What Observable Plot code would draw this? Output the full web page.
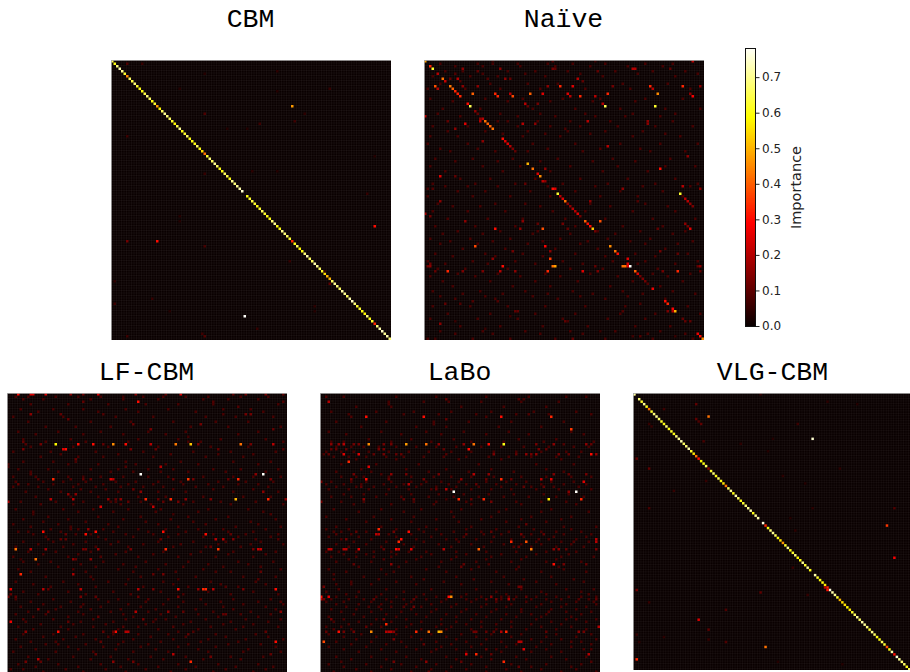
<!DOCTYPE html>
<html><head><meta charset="utf-8">
<script src="https://cdn.jsdelivr.net/npm/d3@7"></script>
<script src="https://cdn.jsdelivr.net/npm/@observablehq/plot@0.6"></script>
<style>
html,body{margin:0;padding:0;background:#fff;width:910px;height:672px;overflow:hidden}
#page{position:relative;width:910px;height:672px;overflow:hidden}
.panel{position:absolute}
.panel svg{display:block;overflow:hidden}
.heat svg{filter:blur(.3px)}
.ttl{position:absolute;width:280px;text-align:center;font-family:"Liberation Mono",monospace;font-size:26.5px;line-height:30px;color:#000}
</style></head><body><div id="page"></div>
<script>
const panelNames = ["CBM","Naïve","LF-CBM","LaBo","VLG-CBM"];
const legendLabel = "Importance";
const legendTicks = [0,0.1,0.2,0.3,0.4,0.5,0.6,0.7];

const cbmDiag = [.65,.6,.68,.72,.7,.62,.45,.66,.64,.68,.62,.6,.6,.64,.68,.66,.6,.62,.47,.58,.66,.7,.68,.66,.62,.58,.64,.7,.6,.62,.66,.6,.6,.6,.66,.6,.55,.42,.62,.68,.66,.7,.66,.6,.6,.66,.64,.6,.7,.68,.7,.72,.75,0,.6,.62,.64,.62,.6,.62,.66,.62,.6,.6,.68,.7,.6,.6,.7,.68,.66,.62,.33,.6,.66,.58,.6,.68,.72,.66,.66,.72,.7,.66,.62,.55,.5,.5,.66,.7,.68,.66,.72,.7,.66,.72,.74,.68,.62,.62,.6,.58,.68,.6,.62,.33,.68,.72,.74,.7,.72,.68];
const cbmCells = [[102,53,.78],[18,72,.47],[72,18,.3],[72,6,.12],[66,105,.3],[1,6,.08],[1,12,.05],[21,37,.08],[25,59,.06],[24,73,.06],[11,87,.05],[4,66,.04],[30,6,.06],[74,37,.07],[110,37,.08],[110,6,.06],[97,1,.06],[95,16,.05],[89,87,.1],[84,85,.05],[53,102,.05],[21,77,.04],[98,81,.04],[107,58,.05],[80,71,.05],[44,56,.04],[44,66,.03],[45,37,.05],[88,1,.04],[11,27,.03],[27,46,.03],[27,54,.03],[5,37,.03],[109,36,.06],[12,66,.03],[38,105,.03],[64,27,.03],[62,27,.03],[100,23,.03],[100,81,.03]];

const vlgDiag = [.66,0,.68,.62,.7,.6,.42,.62,.68,.7,.66,.62,.6,.68,.6,.62,.6,.68,.7,.72,.66,.68,.72,.62,.56,.42,.3,.58,.6,.66,.15,.62,.68,.6,.66,.6,.55,.42,.66,.7,.6,.72,.66,.6,.62,.68,.7,.72,.6,.7,.72,0,.76,.33,.6,.68,.7,.66,.6,.55,.46,.62,.7,.6,.62,.68,.58,.6,.7,.62,.7,.6,0,.72,.62,.6,.6,.56,.33,.76,.72,.7,.62,.5,.55,.55,.58,.56,.62,.66,.7,.66,.72,.7,.68,.62,.7,.66,.6,.6,.66,.62,.38,.6,.72,.3,.75,.7,.68,.66,.6,.66];
const vlgCells = [[18,72,.75],[9,30,.42],[53,102,.35],[66,105,.28],[102,53,.42],[91,26,.25],[107,1,.33],[26,1,.1],[30,6,.1],[79,1,.12],[80,51,.1],[4,25,.1],[10,25,.1],[11,26,.08],[12,27,.1],[12,6,.05],[13,7,.05],[6,12,.06],[95,30,.1],[87,37,.08],[100,37,.08],[46,105,.08],[46,6,.07],[19,28,.07],[35,29,.05],[12,66,.06],[3,78,.04],[4,90,.03],[0,51,.05],[39,16,.05],[46,72,.04],[50,63,.03],[55,65,.04],[33,60,.04],[36,69,.03],[30,83,.04],[18,56,.03],[20,43,.04],[23,54,.03],[70,64,.05],[81,70,.05],[84,6,.05],[98,12,.04],[99,30,.05],[100,2,.04],[97,1,.05],[108,58,.03],[109,84,.03],[79,78,.3],[78,77,.2],[0,0,.72]];

const naiveCells = [[0,0,.48],[2,2,.33],[3,3,.62],[5,5,.2],[7,7,.42],[8,8,.22],[10,4,.38],[11,5,.2],[10,10,.43],[11,11,.4],[12,12,.33],[13,13,.32],[14,14,.33],[13,19,.4],[13,28,.33],[14,29,.33],[14,35,.37],[13,34,.2],[13,42,.4],[13,47,.25],[13,57,.25],[14,58,.2],[14,62,.33],[13,73,.33],[14,68,.2],[13,93,.45],[13,106,.15],[14,107,.28],[10,90,.33],[11,91,.2],[10,103,.33],[10,110,.15],[10,54,.33],[10,59,.25],[10,49,.15],[10,21,.15],[10,15,.15],[10,75,.12],[7,13,.2],[8,14,.08],[7,32,.15],[7,34,.1],[7,61,.2],[8,63,.1],[7,25,.08],[7,10,.1],[3,30,.15],[3,15,.15],[4,21,.1],[3,51,.12],[3,52,.1],[3,83,.2],[3,84,.2],[4,69,.1],[3,98,.1],[0,107,.2],[0,51,.08],[0,68,.05],[0,27,.05],[5,12,.08],
[17,17,.3],[18,18,.65],[18,72,.65],[18,92,.62],[17,71,.2],[17,40,.2],[18,41,.1],[17,45,.12],[20,20,.15],[21,21,.1],[23,22,.15],[24,22,.2],[23,23,.2],[24,24,.42],[25,25,.4],[26,26,.4],[27,27,.42],[22,0,.2],[25,16,.25],[27,12,.15],[24,9,.1],[25,39,.2],[25,44,.15],[24,65,.2],[24,89,.15],[25,89,.15],[27,56,.07],[31,31,.3],[32,32,.25],[33,33,.25],[34,34,.2],[35,35,.13],[36,36,.1],[32,23,.15],[34,73,.2],[38,105,.15],[41,41,.5],[43,43,.42],[45,45,.25],[46,46,.45],[48,47,.2],[48,48,.15],[43,48,.15],[43,94,.3],[46,6,.25],[46,12,.1],[49,40,.1],
[51,51,.3],[51,52,.25],[53,53,.62],[54,54,.2],[55,55,.25],[56,56,.42],[57,57,.15],[58,58,.15],[59,59,.2],[60,60,.2],[61,61,.25],[62,62,.12],[64,64,.4],[65,65,.3],[66,66,.3],[67,67,.52],[68,68,.12],[64,70,.38],[53,102,.62],[50,103,.2],[55,104,.2],[56,105,.2],[57,106,.15],[58,107,.13],[51,79,.15],[51,110,.15],[49,109,.07],[56,6,.15],[51,3,.08],[51,1,.07],[61,0,.18],[62,2,.12],[64,16,.15],[56,66,.15],[56,85,.08],[64,39,.15],[67,28,.3],[67,38,.15],[67,47,.38],[65,45,.1],[65,55,.12],[67,57,.1],[65,104,.15],[66,105,.12],[67,106,.25],[67,93,.1],
[74,20,.37],[74,48,.28],[74,74,.45],[76,76,.42],[77,77,.3],[76,35,.12],[76,50,.15],[76,94,.12],[77,101,.1],[79,81,.25],[79,50,.35],[79,27,.15],[81,81,.25],[82,81,.25],[82,2,.15],[82,1,.12],[81,2,.12],[82,31,.3],[82,51,.42],[82,52,.48],[82,79,.42],[82,80,.42],[82,82,.78],[82,109,.1],[82,110,.15],[82,68,.1],[84,9,.33],[84,15,.13],[84,23,.13],[84,30,.2],[84,36,.15],[84,49,.33],[84,63,.25],[84,69,.13],[84,84,.4],[84,95,.12],[84,101,.33],[84,4,.1],[84,110,.1],[85,85,.25],[86,86,.12],[87,87,.13],[88,88,.12],[89,89,.08],[91,91,.27],[96,96,.3],[97,97,.33],[99,99,.28],[100,100,.5],[100,97,.13],[100,99,.2],[103,103,.1],[104,104,.1],[104,106,.1],[97,8,.1],[97,14,.08],[96,19,.08],[96,29,.08],[97,86,.07],[105,6,.15],[100,36,.1],[100,37,.1],[104,56,.1],[104,57,.07],[100,79,.08],[109,109,.27],[110,110,.3],[111,111,.45],[102,34,.05],[104,12,.05],[107,24,.05],[111,4,.06],[110,86,.08],[110,83,.06],[110,100,.05],[111,59,.1],[108,70,.05]];
const naiveFaint = [[1,[6,21,27,37,49,59,72,88,99]],[2,[12,23,38,52,66,81,95]],[4,[8,15,33,44,57,76,91,104]],[5,[23,40,62,85,109]],[6,[3,18,29,48,71,100]],[9,[6,26,41,53,79,97]],[11,[1,16,30,46,64,82,106]],[15,[2,24,39,55,70,88,103]],[16,[11,33,50,67,84]],[19,[7,22,43,60,78,96,110]],[21,[5,30,46,64,83,100]],[22,[14,37,52,68,80,94]],[24,[29,33,45,58,74,99]],[26,[3,17,37,50,62,77,92,107]],[28,[9,24,41,57,72,87]],[29,[31,48,66,96]],[30,[2,13,39,54,83,102]],[33,[1,17,43,60,78,94,109]],[35,[6,21,49,70,86]],[36,[10,28,41,63,90,104]],[39,[4,19,35,53,75,98]],[40,[12,29,46,67,84]],[42,[2,23,38,58,77,96,108]],[44,[8,31,50,71,89]],[47,[14,26,44,62,81,100]],[49,[3,20,36,55,73,92]],[50,[8,17,29,49,68,87,106]],[52,[13,24,42,60,78,95]],[54,[1,19,34,50,70,85,103]],[57,[5,28,40,66,88]],[58,[11,22,46,74,97]],[60,[3,17,32,51,64,83,100]],[63,[9,25,39,56,72,91,108]],[66,[4,20,36,60,79,95]],[68,[13,30,45,69,86,104]],[69,[7,23,43,58,76,99]],[71,[2,18,34,54,73,90]],[72,[10,27,47,65,82,107]],[73,[6,21,41,62,88,101]],[75,[15,32,52,69,96]],[77,[4,24,39,60,84,105]],[78,[11,28,47,72,92]],[80,[1,19,36,55,75,88,109]],[81,[8,25,44,63,85,100]],[83,[5,16,33,58,71,93]],[85,[13,29,48,66,91,106]],[86,[2,20,38,54,77,97]],[88,[7,26,44,61,83,103]],[90,[11,35,50,74,94]],[92,[3,22,40,59,79,99]],[93,[15,31,49,67,87,108]],[94,[6,24,43,62,81]],[95,[12,28,53,72,96]],[98,[3,18,33,48,64,80,105]],[101,[9,26,44,60,78,92,110]],[103,[2,21,37,55,73,88]],[106,[14,30,47,65,84,98]],[108,[6,23,40,58,76,94]],[109,[12,27,46,63,89,104]],[111,[1,19,34,52,72,91,107]]];

const lfCells = [[0,4,.3],[0,9,.25],[0,10,.25],[0,15,.25],[0,25,.15],[0,30,.12],[0,36,.25],[0,51,.15],[0,63,.1],[0,69,.25],[0,90,.1],[0,95,.12],[0,103,.13],[0,110,.1],[3,52,.3],[3,30,.1],[3,82,.08],[3,110,.08],[2,6,.08],[1,46,.06],[8,9,.15],[8,21,.1],[8,38,.08],[8,86,.07],[8,95,.12],[8,97,.12],[10,24,.1],[12,50,.1],[12,77,.12],[14,57,.12],[14,106,.1],[5,92,.08],[19,6,.1],[20,19,.58],[20,7,.08],[20,13,.12],[20,28,.3],[20,34,.3],[20,38,.1],[20,42,.45],[20,47,.3],[20,57,.2],[20,67,.43],[20,73,.52],[20,76,.13],[20,93,.42],[20,97,.12],[20,106,.2],[17,72,.06],[22,6,.12],[22,22,.25],[22,23,.3],[22,49,.12],[22,59,.1],[22,84,.1],[22,110,.08],[26,27,.1],[29,61,.2],[29,47,.08],[29,0,.07],[33,2,.07],[32,53,.78],[32,102,.78],[32,99,.15],[32,9,.08],[34,18,.33],[34,12,.08],[34,25,.08],[34,30,.1],[34,33,.1],[34,41,.25],[34,42,.2],[34,66,.1],[34,72,.35],[34,74,.12],[34,88,.1],[34,92,.33],[34,105,.12],[36,4,.1],[38,50,.1],[39,53,.15],[40,24,.15],[40,27,.15],[39,102,.15],[42,17,.2],[42,26,.2],[42,40,.15],[42,45,.15],[42,55,.33],[42,65,.33],[42,71,.15],[42,91,.5],[42,104,.33],[42,81,.13],[43,0,.2],[42,43,.1],[43,48,.1],[42,60,.1],[43,62,.1],[43,68,.12],[42,111,.15],[45,37,.25],[45,58,.22],[48,66,.06],[48,10,.06],[48,105,.07],
[55,14,.3],[55,35,.3],[55,62,.3],[54,32,.15],[55,8,.07],[54,25,.07],[56,31,.3],[56,79,.3],[56,23,.1],[56,89,.1],[58,83,.2],[58,86,.2],[58,90,.13],[58,16,.08],[58,21,.1],[58,23,.1],[58,39,.07],[58,61,.1],[58,108,.08],[58,99,.07],[62,3,.42],[62,9,.2],[62,15,.17],[62,30,.12],[62,31,.12],[62,36,.17],[62,49,.12],[62,63,.33],[62,84,.35],[62,98,.12],[62,100,.22],[62,101,.22],[61,81,.1],[66,11,.42],[66,26,.15],[66,27,.1],[66,33,.15],[66,5,.05],[65,37,.08],[72,5,.33],[72,26,.18],[72,58,.1],[72,62,.12],[71,89,.07],[71,101,.1],[74,100,.08],[74,48,.06],[74,68,.06],[74,34,.06],[78,1,.25],[78,14,.2],[78,16,.1],[78,29,.2],[78,52,.2],[78,58,.12],[78,68,.3],[78,76,.15],[78,78,.33],[78,79,.33],[78,82,.2],[78,94,.12],[78,107,.3],[77,87,.08],[80,1,.1],[81,0,.12],[81,3,.1],[81,29,.13],[81,35,.1],[81,52,.1],[81,68,.12],[82,56,.08],[83,109,.08],[86,12,.13],[85,29,.08],[87,16,.1],[87,51,.2],[87,64,.15],[87,70,.1],[88,86,.1],[88,87,.1],[87,109,.15],[89,36,.1],[90,54,.12],[90,59,.07],[91,1,.27],[90,6,.08],[91,24,.1],[95,7,.15],[95,20,.3],[95,43,.3],[95,38,.1],[95,42,.1],[95,47,.2],[95,48,.2],[93,46,.08],[95,68,.07],[95,74,.08],[93,66,.08],[95,103,.1],[99,107,.3],[99,37,.1],[100,20,.07],[96,42,.07],[96,72,.1],[104,66,.2],[104,105,.1],[104,35,.1],[106,12,.2],[107,7,.12],[107,13,.1],[107,42,.15],[107,50,.12],[107,73,.33],[105,81,.12],[110,1,.07]];
const lfFaint = [[1,[3,8,19,28,37,54,62,71,80,93,104]],[2,[14,33,46,60,78,88,100]],[4,[9,24,40,55,68,82,108]],[6,[5,18,30,47,64,86,97]],[7,[12,36,52,75,102]],[9,[2,22,43,58,79,91,106]],[11,[8,33,49,66,83,96]],[13,[15,27,41,73,88,109]],[15,[4,20,37,56,71,100]],[16,[11,30,46,63,92]],[18,[6,25,52,68,85,103]],[19,[15,31,48,72,77,110]],[21,[9,26,40,60,81,96]],[23,[2,17,35,54,74,89,107]],[24,[21,44,65,84,98]],[25,[13,28,38,58,79,94]],[27,[6,18,27,47,69,90,105]],[28,[0,24,36,51,63,76,100]],[30,[4,16,33,44,56,66,82,93,108]],[31,[9,20,41,50,61,72,87,103]],[33,[11,24,30,37,46,56,64,78,90,98,109]],[35,[3,14,22,31,43,51,60,69,84,95,106]],[36,[8,18,28,38,48,58,70,80,92,100]],[37,[2,12,26,35,45,54,62,75,86,104]],[38,[16,29,39,50,66,82,98]],[39,[7,21,33,44,60,71,90,108]],[41,[11,25,36,52,63,78,94,105]],[43,[5,19,30,41,43,53,74,85,99]],[44,[13,26,45,57,70,89,110]],[46,[3,22,34,48,61,80,96]],[47,[10,28,42,59,76,102]],[49,[16,36,53,72,88]],[50,[6,24,46,65,83,107]],[51,[14,31,55,74,97]],[52,[2,20,40,60,79,100]],[53,[9,25,44,68,91,109]],[54,[17,28,38,52,63,76,86,103]],[55,[4,21,42,56,71,88,98]],[56,[10,27,33,47,58,68,82,95,108]],[57,[15,36,50,64,78,92,105]],[59,[6,18,31,44,60,74,87,101]],[60,[12,26,41,54,69,84,97,110]],[61,[3,22,35,48,66,79,93]],[63,[8,19,33,47,62,77,90,107]],[64,[14,28,43,58,73,88,103]],[65,[2,24,52,68,83,98]],[67,[6,17,38,55,72,92,106]],[68,[12,29,46,63,80,96]],[69,[20,35,51,70,86,101]],[70,[4,26,44,60,78,109]],[71,[9,31,50,67,83]],[73,[15,33,53,75,94,107]],[75,[3,22,40,62,81,99]],[76,[10,28,47,66,85,103]],[77,[17,35,54,72,92]],[79,[6,24,42,61,80,98]],[80,[12,31,49,70,89,108]],[82,[3,18,36,44,64,77,90,105]],[83,[9,25,40,55,70,85,100]],[84,[14,30,48,62,79,94,110]],[85,[5,21,37,53,68,86,103]],[86,[19,33,45,59,75,90,107]],[87,[8,28,41,56,82,97]],[88,[3,15,30,46,61,76,93,105]],[89,[10,24,50,67,84,100]],[90,[18,34,47,63,79,95,109]],[91,[7,29,42,58,73,89,104]],[92,[13,26,39,55,70,86,98]],[93,[4,21,34,52,81,94,108]],[94,[10,24,44,60,76,91]],[96,[6,18,30,52,64,83,99]],[97,[14,27,40,57,71,87,104]],[98,[3,22,35,50,66,80,95,110]],[99,[9,19,46,61,77,92]],[100,[15,31,44,56,72,88,101]],[101,[5,24,38,53,68,83,107]],[102,[11,28,43,59,76,96]],[103,[2,19,34,50,64,80,94,109]],[105,[8,26,41,57,71,89,102]],[106,[16,33,48,62,78,93]],[108,[4,20,37,52,68,84,100]],[109,[11,28,45,60,75,91,106]],[110,[6,23,39,55,71,87,103]],[111,[14,30,47,65,82,98]]];

const laboCells = [[1,2,.08],[3,3,.2],[2,50,.1],[2,79,.08],[2,81,.07],[4,27,.07],[9,18,.3],[9,12,.08],[9,41,.3],[9,72,.3],[9,66,.07],[9,92,.33],[10,50,.1],[8,83,.08],[14,100,.35],[12,45,.07],[20,4,.15],[20,7,.15],[20,9,.2],[20,13,.12],[20,15,.12],[20,19,.45],[20,25,.12],[20,28,.12],[20,34,.47],[20,42,.42],[20,47,.15],[20,57,.15],[20,61,.42],[20,67,.3],[20,73,.6],[20,86,.12],[20,93,.15],[20,106,.15],[20,108,.1],[20,97,.08],[22,4,.1],[22,6,.1],[22,10,.1],[22,23,.12],[22,25,.12],[22,49,.1],[22,59,.3],[22,87,.12],[22,90,.1],[24,3,.1],[24,9,.25],[24,15,.25],[24,21,.1],[24,25,.12],[24,30,.1],[24,32,.1],[24,50,.08],[24,69,.13],[24,78,.1],[24,82,.15],[24,84,.12],[24,86,.15],[24,95,.12],[24,99,.1],[24,108,.3],[24,110,.15],[24,1,.07],[27,11,.33],[29,19,.25],[32,13,.12],[32,28,.15],[32,34,.12],[32,47,.12],[32,61,.2],[32,67,.15],[32,93,.13],[32,99,.1],[32,106,.12],[32,24,.07],[34,18,.3],[34,12,.12],[34,27,.1],[34,41,.12],[34,56,.15],[34,72,.33],[34,88,.2],[34,92,.25],[34,66,.1],[34,76,.1],[35,0,.13],[35,105,.25],[36,35,.2],[36,62,.1],[37,16,.1],[38,50,.2],[38,46,.1],[37,89,.1],[37,81,.1],[39,53,.78],[39,102,.78],[39,99,.15],[42,17,.15],[42,33,.1],[42,37,.1],[42,55,.33],[42,65,.33],[42,60,.1],[42,91,.57],[42,104,.33],[43,68,.12],[43,0,.13],[42,50,.06],
[54,23,.33],[55,35,.3],[55,14,.1],[55,29,.12],[54,39,.07],[55,8,.07],[52,82,.1],[55,68,.1],[55,94,.07],[56,22,.2],[56,23,.2],[56,58,.1],[56,80,.12],[56,89,.1],[56,6,.08],[58,32,.3],[58,10,.12],[58,54,.07],[58,110,.2],[59,110,.2],[59,31,.33],[59,76,.33],[59,82,.38],[58,87,.08],[59,101,.08],[61,79,.1],[62,3,.2],[62,4,.2],[62,9,.2],[62,10,.2],[62,15,.25],[62,25,.1],[62,30,.3],[62,31,.25],[62,36,.25],[62,49,.2],[62,63,.4],[62,84,.43],[62,93,.15],[62,95,.15],[62,98,.1],[62,110,.13],[65,21,.07],[68,13,.1],[68,28,.15],[68,93,.3],[68,97,.12],[68,106,.1],[68,57,.1],[69,56,.1],[68,67,.07],[72,5,.07],[76,6,.07],[76,12,.07],[77,1,.12],[77,79,.12],[77,80,.12],[72,26,.06],[81,0,.3],[81,3,.25],[81,51,.3],[81,52,.45],[81,68,.15],[81,75,.1],[81,82,.1],[81,99,.07],[82,0,.2],[82,1,.12],[82,21,.1],[82,37,.1],[82,66,.1],[82,70,.12],[82,75,.2],[82,77,.08],[82,103,.08],[82,110,.1],[85,37,.12],[85,33,.08],[85,23,.07],[88,84,.07],[87,91,.08],[90,4,.12],[92,26,.33],[90,25,.12],[90,102,.08],[95,2,.1],[95,7,.3],[95,9,.12],[95,13,.12],[95,20,.45],[95,26,.2],[95,27,.2],[95,28,.2],[95,29,.15],[95,38,.33],[95,43,.42],[95,47,.5],[95,48,.45],[95,61,.12],[95,62,.12],[95,66,.1],[95,69,.1],[95,72,.2],[95,74,.33],[95,90,.1],[95,103,.15],[95,105,.12],[93,111,.2],[93,18,.1],[99,1,.37],[98,29,.12],[100,41,.1],[99,79,.2],[99,80,.2],[99,100,.08],[102,81,.25],[102,46,.08],[104,58,.25],[104,62,.33],[102,66,.1],[104,68,.1],[104,107,.2],[102,105,.07],[107,73,.33],[107,42,.15],[107,29,.12],[107,56,.1],[107,8,.07],[109,79,.1],[107,108,.08],[111,43,.1]];
const laboFaint = [[1,[9,30,46,66,83,98,106]],[3,[27,41,51,64,80,95]],[5,[14,28,56,73,90]],[7,[4,22,37,52,68,85,102]],[8,[11,33,47,62,78,91,108]],[11,[6,26,45,59,76,97]],[13,[16,38,50,71,88]],[15,[3,24,42,57,75,100]],[16,[10,32,48,66,83,105]],[18,[19,36,53,79,94]],[19,[4,9,28,44,60,73,89,109]],[21,[6,12,17,23,30,38,46,54,64,72,81,91,101,107]],[23,[2,8,13,19,27,35,43,52,60,69,78,88,98,104]],[25,[5,11,18,26,33,41,49,58,67,75,84,94,103]],[26,[14,30,55,72,96]],[28,[8,22,39,63,86,101]],[30,[16,34,50,68,90]],[31,[6,20,43,59,77,97]],[33,[8,14,17,27,36,45,52,60,69,80,90,100,108]],[35,[4,12,18,28,36,42,48,55,66,74,82,92,101]],[36,[2,9,16,25,33,40,51,58,70,78,88,97,106]],[37,[6,14,21,30,38,46,54,63,72,84,93,103]],[38,[3,11,19,27,35,44,52,60,68,76,86,95,108]],[40,[9,17,26,36,47,57,67,77,89,99]],[41,[4,12,22,32,43,53,63,73,83,94,105]],[43,[8,17,37,46,58,78,88,98]],[44,[13,28,45,60,80,102]],[46,[5,24,40,56,74,92]],[47,[15,33,52,71,88,107]],[49,[2,21,37,53,68,84,100]],[50,[10,28,46,64,80,96]],[51,[18,36,55,74,90]],[53,[6,24,42,60,79,97,110]],[54,[2,11,30,46,58,70,85,100]],[55,[5,18,41,53,64,75,88,104]],[56,[12,27,36,48,65,72,84,97,108]],[57,[3,15,30,44,57,69,81,93,106]],[58,[8,20,38,50,62,76,91,102]],[59,[13,26,41,55,68,86,96,107]],[60,[6,18,33,47,60,73,80,88,100]],[61,[11,24,37,52,65,77,84,94,105]],[63,[2,7,14,21,28,35,42,54,66,78,90,102]],[64,[9,18,30,44,58,72,86,99]],[65,[4,14,28,40,54,68,82,96,109]],[66,[11,25,38,52,66,80,94]],[67,[6,20,34,48,62,76,90,104]],[69,[15,31,47,63,79,95]],[70,[3,24,42,60,78,97]],[71,[10,29,50,70,88,106]],[73,[17,36,54,73,92]],[74,[5,23,41,61,81,101]],[75,[12,30,49,68,86,105]],[76,[20,38,56,75,94]],[78,[7,26,44,62,80,98,109]],[79,[2,15,33,52,70,88,104]],[80,[10,24,41,58,74,90,107]],[81,[6,14,22,30,38,46,56,64,72,78,86,94,104,110]],[82,[4,11,17,26,33,42,50,58,62,72,84,90,96,107]],[83,[2,9,20,28,36,48,60,70,82,92,102,109]],[84,[6,15,24,34,44,54,66,76,88,98,110]],[85,[10,19,28,40,52,64,74,86,96,106]],[86,[4,14,24,36,46,58,70,80,92,102]],[87,[8,20,32,44,56,68,80,98,108]],[88,[13,26,38,50,62,74,90,104]],[89,[3,17,30,42,54,66,78,88,100]],[90,[9,22,34,48,60,72,86,98,110]],[91,[5,15,28,40,54,64,76,92,106]],[92,[11,20,36,48,58,70,84,96]],[93,[2,8,24,34,46,52,64,76,88,100]],[94,[5,12,30,40,50,60,70,82,94,106]],[96,[3,16,30,44,56,68,80,94,108]],[97,[9,22,36,50,62,76,90,102]],[98,[14,40,54,66,84,96,110]],[99,[6,20,32,46,58,72,88,104]],[100,[12,26,52,64,78,92,108]],[101,[3,18,34,48,60,74,86,100]],[102,[9,24,38,54,70,90,108]],[103,[15,30,44,58,72,84,96]],[105,[6,20,34,50,64,78,92,106]],[106,[12,26,40,54,68,82,98]],[108,[3,18,32,46,60,76,90,104]],[109,[9,24,38,52,66,84,100]],[110,[14,28,44,58,74,88,102]],[111,[5,20,36,50,66,80,96,110]]];

const hotStops = ["#0a0000","#ff0000","#ffff00","#ffffff"];
const hotDomain = [0,.287,.586,.785];
const edges = d3.range(113);
const page = document.getElementById("page");

const colorOpts = {type:"linear",domain:hotDomain,range:hotStops,interpolate:"rgb",clamp:true};
const toCells = (cells,faint=[],diag=[]) => [
  ...faint.flatMap(([r,cols])=>cols.map(c=>({r,c,v:.07}))),
  ...diag.map((v,i)=>({r:i,c:i,v})).filter(d=>d.v>0),
  ...cells.map(([r,c,v])=>({r,c,v}))
];
function heat(name,cells,left,top,titleGap){
  const p = Plot.plot({
    width:280,height:280,margin:0,
    x:{domain:[0,112],axis:null},
    y:{domain:[112,0],axis:null},
    color:colorOpts,
    style:{background:"#0a0000"},
    marks:[
      Plot.ruleX(edges,{x:d=>d,stroke:"#fff",strokeOpacity:.07,strokeWidth:.6}),
      Plot.ruleY(edges,{y:d=>d,stroke:"#fff",strokeOpacity:.07,strokeWidth:.6}),
      Plot.rect(cells,{x1:d=>d.c,x2:d=>d.c+1,y1:d=>d.r,y2:d=>d.r+1,fill:"v"}),
      Plot.frame({stroke:"#aaa",strokeWidth:.8})
    ]
  });
  const box=document.createElement("div");box.className="panel heat";
  box.style.left=left+"px";box.style.top=top+"px";box.appendChild(p);page.appendChild(box);
  const t=document.createElement("div");t.className="ttl";t.textContent=name;
  t.style.left=left+"px";t.style.top=(top-titleGap)+"px";page.appendChild(t);
}
heat(panelNames[0],toCells(cbmCells,[],cbmDiag),110.5,60,55);
heat(panelNames[1],toCells(naiveCells,naiveFaint),423.5,60,55);
heat(panelNames[2],toCells(lfCells,lfFaint),6.5,392.5,35);
heat(panelNames[3],toCells(laboCells,laboFaint),319.5,392.5,35);
heat(panelNames[4],toCells(vlgCells,[],vlgDiag),632.5,392.5,35);

// colour bar
const levels = d3.range(0,.782,.002);
const bar = Plot.plot({
  width:70,height:290,marginLeft:1,marginRight:59,marginTop:6,marginBottom:6,
  x:{domain:[0,1],axis:null},
  y:{domain:[0,.782],axis:null},
  color:colorOpts,
  style:{fontFamily:"DejaVu Sans",fontSize:"12px",color:"#222",background:"transparent"},
  marks:[
    Plot.rect(levels,{x1:0,x2:1,y1:d=>d,y2:d=>Math.min(d+.006,.782),fill:d=>d}),
    Plot.frame({stroke:"#111",strokeWidth:1}),
    Plot.axisY({anchor:"right",ticks:legendTicks,tickFormat:".1f",tickSize:3.5,tickPadding:3,label:null,stroke:"#222",fontSize:12,fill:"#222"}),
    Plot.text([legendLabel],{frameAnchor:"right",textAnchor:"middle",rotate:-90,dx:41,fontSize:14.5,fill:"#222",fontFamily:"DejaVu Sans"})
  ]
});
const bb=document.createElement("div");bb.className="panel";bb.style.left="743.5px";bb.style.top="41.5px";bb.appendChild(bar);page.appendChild(bb);
</script></body></html>
